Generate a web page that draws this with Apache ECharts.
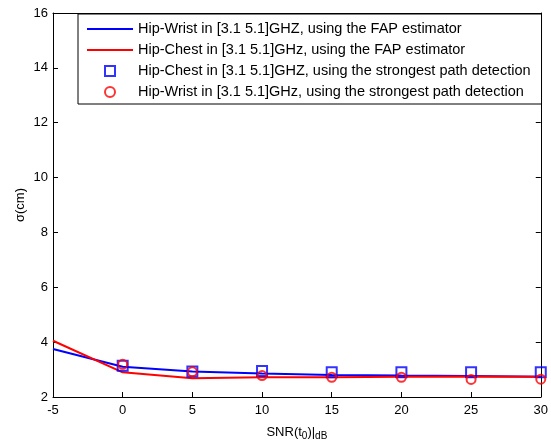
<!DOCTYPE html>
<html><head><meta charset="utf-8">
<script src="https://cdn.jsdelivr.net/npm/echarts@6/dist/echarts.min.js"></script>
<style>html,body{margin:0;padding:0;background:#fff}#c{width:551px;height:446px}</style>
</head><body><div id="c"></div>
<script>
const snrLine = [-5, 0, 5, 10, 15, 20, 25, 30];
const wristFAP = [3.75, 3.1, 2.93, 2.86, 2.8, 2.78, 2.77, 2.74];
const chestFAP = [4.05, 2.9, 2.68, 2.72, 2.72, 2.74, 2.75, 2.74];
const snrMarks = [0, 5, 10, 15, 20, 25, 30];
const chestStrongest = [3.14, 2.93, 2.95, 2.9, 2.9, 2.9, 2.9];
const wristStrongest = [3.19, 2.92, 2.78, 2.72, 2.72, 2.64, 2.65];
const names = [
  'Hip-Wrist in [3.1 5.1]GHZ, using the FAP estimator',
  'Hip-Chest in [3.1 5.1]GHz, using the FAP estimator',
  'Hip-Chest in [3.1 5.1]GHZ, using the strongest path detection',
  'Hip-Wrist in [3.1 5.1]GHz, using the strongest path detection'
];
const zip = (xs, ys) => xs.map((x, i) => [x, ys[i]]);
const font = 'Liberation Sans, Arial, sans-serif';
const chart = echarts.init(document.getElementById('c'), null, {renderer: 'canvas'});
const baseAxis = {
  axisLine: {show: true, onZero: false, lineStyle: {color: '#000', width: 1}},
  axisTick: {show: true, inside: true, length: 5, lineStyle: {color: '#000'}},
  splitLine: {show: false},
  axisLabel: {color: '#000', fontFamily: font, fontSize: 13}
};
chart.setOption({
  animation: false,
  backgroundColor: '#fff',
  grid: {left: 53, right: 8, top: 13, bottom: 49, containLabel: false},
  xAxis: [
    Object.assign({}, baseAxis, {type: 'value', min: -5, max: 30, interval: 5, position: 'bottom',
      axisLabel: Object.assign({}, baseAxis.axisLabel, {margin: 7}),
      name: 'SNR(t{s|0})|{s|dB}', nameLocation: 'middle', nameGap: 27, nameMoveOverlap: false,
      nameTextStyle: {color: '#000', fontFamily: font, fontSize: 13, rich: {s: {fontSize: 10, verticalAlign: 'bottom', padding: [7, 0, 0, 0], fontFamily: font, color: '#000'}}}}),
    Object.assign({}, baseAxis, {type: 'value', min: -5, max: 30, interval: 5, position: 'top', axisLabel: {show: false}})
  ],
  yAxis: [
    Object.assign({}, baseAxis, {type: 'value', min: 2, max: 16, interval: 2, position: 'left',
      axisLabel: Object.assign({}, baseAxis.axisLabel, {margin: 5}),
      name: 'σ(cm)', nameLocation: 'middle', nameGap: 26, nameMoveOverlap: false,
      nameTextStyle: {color: '#000', fontFamily: font, fontSize: 13}}),
    Object.assign({}, baseAxis, {type: 'value', min: 2, max: 16, interval: 2, position: 'right', axisLabel: {show: false}})
  ],
  legend: {
    orient: 'vertical', left: 78, top: 14,
    backgroundColor: '#fff', borderColor: '#000', borderWidth: 1, borderRadius: 0,
    padding: [7, 11, 4, 9], itemWidth: 46, itemHeight: 10, itemGap: 5,
    symbolKeepAspect: true,
    textStyle: {color: '#000', fontFamily: font, fontSize: 14.5, lineHeight: 16},
    data: [
      {name: names[0], icon: 'path://M0,0 L46,0 L46,2.2 L0,2.2 Z'},
      {name: names[1], icon: 'path://M0,0 L46,0 L46,2.2 L0,2.2 Z'},
      {name: names[2], icon: 'path://M0,0 L10,0 L10,10 L0,10 Z'},
      {name: names[3], icon: 'circle'}
    ]
  },
  series: [
    {name: names[0], type: 'line', data: zip(snrLine, wristFAP), symbol: 'none', lineStyle: {color: '#0000ff', width: 2}, itemStyle: {color: '#0000ff'}, z: 2},
    {name: names[1], type: 'line', data: zip(snrLine, chestFAP), symbol: 'none', lineStyle: {color: '#ff0000', width: 2}, itemStyle: {color: '#ff0000'}, z: 3},
    {name: names[2], type: 'scatter', data: zip(snrMarks, chestStrongest), symbol: 'rect', symbolSize: 10,
      itemStyle: {color: 'rgba(0,0,0,0)', borderColor: '#0000ff', borderWidth: 2}, z: 4},
    {name: names[3], type: 'scatter', data: zip(snrMarks, wristStrongest), symbol: 'circle', symbolSize: 9,
      itemStyle: {color: 'rgba(0,0,0,0)', borderColor: '#ff0000', borderWidth: 2}, z: 5}
  ]
});
</script></body></html>
